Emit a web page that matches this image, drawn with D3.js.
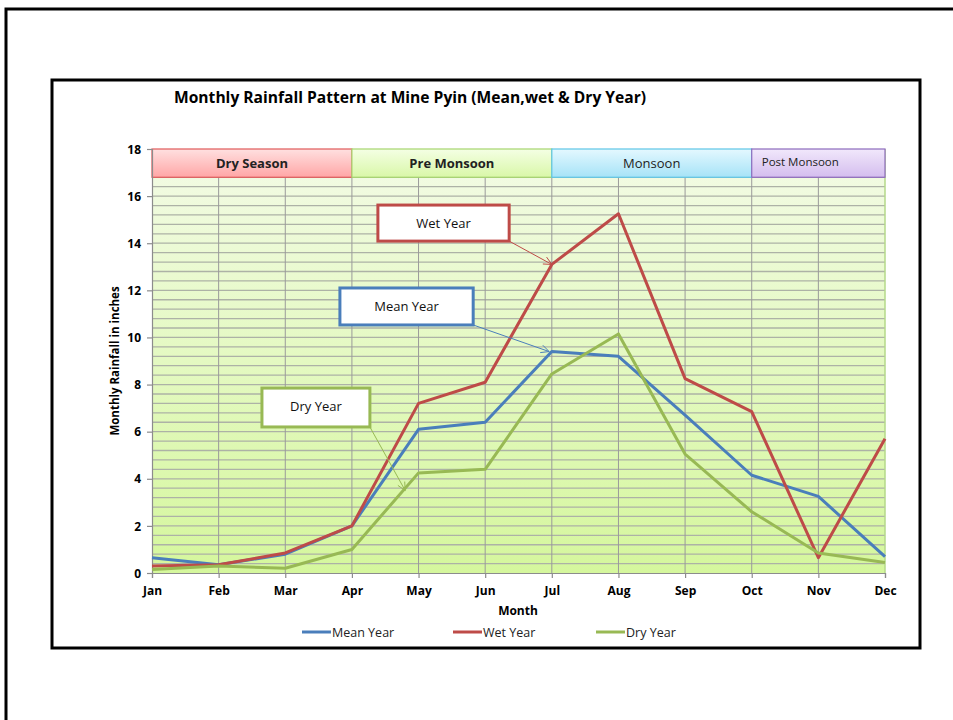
<!DOCTYPE html>
<html>
<head>
<meta charset="utf-8">
<script src="https://cdn.jsdelivr.net/npm/d3@7"></script>
<style>
  html, body { margin: 0; background: #fff; overflow: hidden; }
  svg { display: block; }
  svg text { font-family: "Liberation Sans Narrow", "Open Sans", sans-serif; }
</style>
</head>
<body>
<div id="chart"></div>
<script>
var width = 953
var height = 720

// data
var months = ["Jan", "Feb", "Mar", "Apr", "May", "Jun", "Jul", "Aug", "Sep", "Oct", "Nov", "Dec"]
var meanYear = [0.65, 0.35, 0.8, 2.0, 6.1, 6.4, 9.4, 9.2, 6.7, 4.15, 3.25, 0.7]
var wetYear = [0.3, 0.35, 0.85, 2.0, 7.2, 8.1, 13.1, 15.25, 8.25, 6.85, 0.65, 5.7]
var dryYear = [0.15, 0.3, 0.2, 1.0, 4.25, 4.4, 8.45, 10.15, 5.05, 2.6, 0.85, 0.45]
var yTicks = [0, 2, 4, 6, 8, 10, 12, 14, 16, 18]
var seasons = [
  { name: "Dry Season", from: "Jan", to: "Apr" },
  { name: "Pre Monsoon", from: "Apr", to: "Jul" },
  { name: "Monsoon", from: "Jul", to: "Oct" },
  { name: "Post Monsoon", from: "Oct", to: "Dec" }
]
var seriesNames = ["Mean Year", "Wet Year", "Dry Year"]

var colors = { "Mean Year": "#4a7ebb", "Wet Year": "#be4b48", "Dry Year": "#98b954" }
var seasonStyle = {
  "Dry Season": { top: "#ffe0e0", bottom: "#ffa6a6", stroke: "#e05a5a", weight: "bold", size: 13, anchor: "middle" },
  "Pre Monsoon": { top: "#f4ffe4", bottom: "#d9f7a8", stroke: "#a6d56e", weight: "bold", size: 13, anchor: "middle" },
  "Monsoon": { top: "#e4f8ff", bottom: "#a6e3f7", stroke: "#5ec6e6", weight: "normal", size: 13, anchor: "middle" },
  "Post Monsoon": { top: "#f1e8fb", bottom: "#d4bdee", stroke: "#8d6bbd", weight: "normal", size: 11.5, anchor: "start" }
}

var svg = d3.select("#chart")
  .append("svg")
    .attr("width", width)
    .attr("height", height)

var margin = { left: 152, right: 885, top: 149, bottom: 573 }

var x = d3.scalePoint()
    .domain(months)
    .range([margin.left, margin.right])

var y = d3.scaleLinear()
    .domain([0, 18])
    .range([margin.bottom, margin.top])

// frames (outer one runs off the page on the right and bottom)
svg.append("path")
    .attr("d", "M" + (width + 20) + ",9H6V" + (height + 20))
    .attr("fill", "none").attr("stroke", "#000").attr("stroke-width", 3)

svg.append("rect")
    .attr("x", 52).attr("y", 80)
    .attr("width", 868).attr("height", 568)
    .attr("fill", "#fff").attr("stroke", "#000").attr("stroke-width", 3)

var defs = svg.append("defs")
var bg = defs.append("linearGradient").attr("id", "bg")
    .attr("x1", 0).attr("y1", 0).attr("x2", 0).attr("y2", 1)
bg.append("stop").attr("offset", "0%").attr("stop-color", "#f3fbe6")
bg.append("stop").attr("offset", "100%").attr("stop-color", "#d5f79d")

seasons.forEach(function(s, i) {
  var g = defs.append("linearGradient").attr("id", "season" + i)
      .attr("x1", 0).attr("y1", 0).attr("x2", 0).attr("y2", 1)
  g.append("stop").attr("offset", "0%").attr("stop-color", seasonStyle[s.name].top)
  g.append("stop").attr("offset", "100%").attr("stop-color", seasonStyle[s.name].bottom)
})

// plot background
svg.append("rect")
    .attr("x", margin.left).attr("y", margin.top)
    .attr("width", margin.right - margin.left)
    .attr("height", margin.bottom - margin.top)
    .attr("fill", "url(#bg)")

// minor horizontal grid every 0.4
var gridVals = d3.range(1, 45).map(function(i) { return i * 0.4 })
svg.append("g")
  .selectAll("line")
  .data(gridVals)
  .enter()
  .append("line")
    .attr("x1", margin.left).attr("x2", margin.right)
    .attr("y1", function(d) { return y(d) }).attr("y2", function(d) { return y(d) })
    .attr("stroke", "#adb2a6").attr("stroke-width", 1.3)

// vertical grid
svg.append("g")
  .selectAll("line")
  .data(months.slice(1, 11))
  .enter()
  .append("line")
    .attr("x1", function(d) { return x(d) }).attr("x2", function(d) { return x(d) })
    .attr("y1", margin.top).attr("y2", margin.bottom)
    .attr("stroke", "#9a9a9a").attr("stroke-width", 1)

// right border
svg.append("line")
    .attr("x1", margin.right).attr("x2", margin.right)
    .attr("y1", margin.top).attr("y2", margin.bottom)
    .attr("stroke", "#b5d98a").attr("stroke-width", 1.5)

// season bands
var band = svg.append("g")
  .selectAll("g")
  .data(seasons)
  .enter()
  .append("g")

band.append("rect")
    .attr("x", function(d) { return x(d.from) })
    .attr("y", y(18))
    .attr("width", function(d) { return x(d.to) - x(d.from) })
    .attr("height", y(16.8) - y(18))
    .attr("fill", function(d, i) { return "url(#season" + i + ")" })
    .attr("stroke", function(d) { return seasonStyle[d.name].stroke })
    .attr("stroke-width", 1.2)

band.append("text")
    .attr("x", function(d) {
      return seasonStyle[d.name].anchor == "start" ? x(d.from) + 10 : (x(d.from) + x(d.to)) / 2
    })
    .attr("y", function(d) { return d.name == "Post Monsoon" ? 166 : 168 })
    .attr("text-anchor", function(d) { return seasonStyle[d.name].anchor })
    .attr("font-size", function(d) { return seasonStyle[d.name].size })
    .attr("font-weight", function(d) { return seasonStyle[d.name].weight })
    .attr("fill", "#222")
    .text(function(d) { return d.name })

// axes
var yAxis = svg.append("g")
    .attr("transform", "translate(" + margin.left + ",0)")
    .call(d3.axisLeft(y).tickValues(yTicks).tickSize(5).tickPadding(6))
var xAxis = svg.append("g")
    .attr("transform", "translate(0," + margin.bottom + ")")
    .call(d3.axisBottom(x).tickSize(5).tickPadding(6))

svg.selectAll(".domain, .tick line").attr("stroke", "#8c8c8c").attr("stroke-width", 1.2)
svg.selectAll(".tick text")
    .attr("font-family", "\"Liberation Sans Narrow\", \"Open Sans\", sans-serif")
    .attr("font-size", 12).attr("font-weight", "bold").attr("fill", "#000")
yAxis.selectAll(".tick text").attr("dy", "0.35em")
xAxis.selectAll(".tick text").attr("dy", "0.9em")

// titles
svg.append("text")
    .attr("x", 174).attr("y", 103)
    .attr("font-size", 15.6).attr("font-weight", "bold")
    .text("Monthly Rainfall Pattern at Mine Pyin (Mean,wet & Dry Year)")

svg.append("text")
    .attr("x", 518).attr("y", 615)
    .attr("text-anchor", "middle")
    .attr("font-size", 12).attr("font-weight", "bold")
    .text("Month")

svg.append("text")
    .attr("transform", "translate(119," + y(9.0) + ") rotate(-90)")
    .attr("text-anchor", "middle")
    .attr("font-size", 11.5).attr("font-weight", "bold")
    .text("Monthly Rainfall in inches")

// lines
var series = [
  { name: "Mean Year", values: meanYear },
  { name: "Wet Year", values: wetYear },
  { name: "Dry Year", values: dryYear }
]

var line = d3.line()
    .x(function(d, i) { return x(months[i]) })
    .y(function(d) { return y(d) })

svg.append("g")
  .selectAll("path")
  .data(series)
  .enter()
  .append("path")
    .attr("d", function(d) { return line(d.values) })
    .attr("fill", "none")
    .attr("stroke", function(d) { return colors[d.name] })
    .attr("stroke-width", 3)
    .attr("stroke-linejoin", "round")

// callouts (box corners and arrow tip in month index / inch units)
var callouts = [
  { name: "Wet Year", x0: 3.39, x1: 5.36, top: 15.62, bottom: 14.09, tipX: 6, tipY: 13.1 },
  { name: "Mean Year", x0: 2.82, x1: 4.82, top: 12.1, bottom: 10.53, tipX: 5.96, tipY: 9.4 },
  { name: "Dry Year", x0: 1.65, x1: 3.27, top: 7.85, bottom: 6.2, tipX: 3.8, tipY: 3.5 }
]
var xi = d3.scaleLinear().domain([0, 11]).range([margin.left, margin.right])

callouts.forEach(function(c) {
  var col = colors[c.name]
  var ax = xi(c.x1), ay = y(c.bottom)
  var tx = xi(c.tipX), ty = y(c.tipY)
  svg.append("line")
      .attr("x1", ax).attr("y1", ay).attr("x2", tx).attr("y2", ty)
      .attr("stroke", col).attr("stroke-width", 1)
  var ang = Math.atan2(ty - ay, tx - ax)
  var L = 9, a = 0.45
  svg.append("path")
      .attr("d", "M" + (tx - L * Math.cos(ang - a)) + "," + (ty - L * Math.sin(ang - a)) +
                 "L" + tx + "," + ty +
                 "L" + (tx - L * Math.cos(ang + a)) + "," + (ty - L * Math.sin(ang + a)))
      .attr("fill", "none").attr("stroke", col).attr("stroke-width", 1)
  svg.append("rect")
      .attr("x", xi(c.x0)).attr("y", y(c.top))
      .attr("width", xi(c.x1) - xi(c.x0)).attr("height", y(c.bottom) - y(c.top))
      .attr("fill", "#fff").attr("stroke", col).attr("stroke-width", 3)
  svg.append("text")
      .attr("x", (xi(c.x0) + xi(c.x1)) / 2)
      .attr("y", y(c.top) + 23)
      .attr("text-anchor", "middle")
      .attr("font-size", 13)
      .attr("fill", "#111")
      .text(c.name)
})

// legend
var legendX = [302, 453, 596]
var legend = svg.append("g")
  .selectAll("g")
  .data(seriesNames)
  .enter()
  .append("g")
    .attr("transform", function(d, i) { return "translate(" + legendX[i] + ",632)" })

legend.append("line")
    .attr("x1", 0).attr("x2", 29)
    .attr("stroke", function(d) { return colors[d] })
    .attr("stroke-width", 3)
legend.append("text")
    .attr("x", 30).attr("y", 4.5)
    .attr("font-size", 12.5)
    .attr("fill", "#222")
    .text(function(d) { return d })
</script>
</body>
</html>
